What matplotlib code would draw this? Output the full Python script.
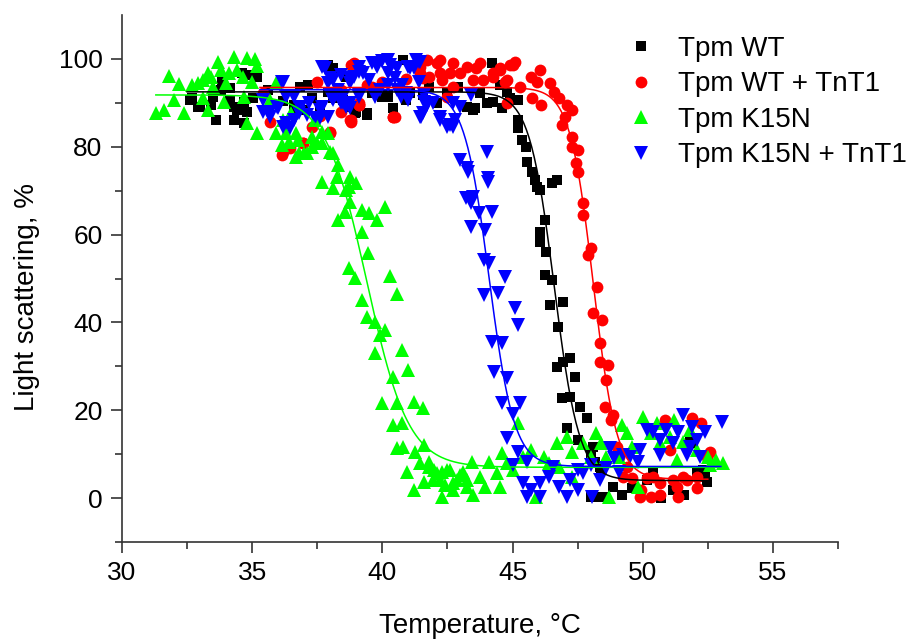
import numpy as np
import matplotlib
matplotlib.use("Agg")
import matplotlib.pyplot as plt
from matplotlib.ticker import MultipleLocator

plt.rcParams['font.family'] = ['Liberation Sans', 'DejaVu Sans']

# ---------------- data ----------------
wt_x = [32.6, 32.7, 32.9, 33.0, 33.4, 33.5, 33.6, 33.8, 33.85, 34.15, 34.15, 34.3, 34.3, 34.4, 34.5,
        34.6, 34.7, 34.7, 34.8, 35.0, 35.2, 35.6, 36.2, 36.6, 36.85, 36.95, 37.3, 37.6, 37.9, 37.9,
        38.1, 38.5, 38.6, 38.75, 38.95, 39.4, 39.6, 40.0, 40.2, 40.4, 40.8, 40.9, 41.05, 41.4, 41.8,
        42.1, 42.5, 42.9, 43.25, 43.5, 43.55, 43.75, 44.0, 44.2, 44.25, 44.5, 44.6, 44.8, 44.9, 45.2,
        45.2, 45.2, 45.35, 45.5, 45.55, 45.75, 45.85, 45.95, 46.05, 46.5, 46.7, 46.25, 46.05, 46.05,
        46.3, 46.25, 46.5, 46.45, 46.95, 46.75, 46.7, 46.95, 47.2, 47.4, 46.9, 47.2, 47.6, 47.85,
        47.1, 47.5, 48.1, 48.0, 48.15, 48.35, 48.4, 48.0, 48.35, 48.5, 48.85, 49.2, 49.6, 50.15,
        50.4, 50.7, 51.15, 51.6, 51.8, 51.9, 52.1, 52.2, 52.3, 52.4, 52.45,
        39.4, 39.0, 40.4, 40.2, 38.0, 37.15, 36.6, 41.55, 38.1, 35.05]
wt_y = [90.7, 91.1, 89.1, 89.1, 89.5, 91.3, 86.1, 92.9, 94.8, 93.4, 90.7, 86.1, 89.1, 88.4, 89.1,
        96.8, 90.2, 85.4, 88.0, 96.4, 95.9, 92.9, 90.5, 89.5, 93.6, 88.4, 91.0, 88.0, 98.6, 92.5,
        97.9, 90.7, 95.9, 89.1, 87.7, 87.2, 92.3, 91.3, 91.3, 88.8, 99.8, 90.7, 92.3, 98.6, 93.6,
        90.0, 92.3, 93.6, 89.1, 88.4, 88.8, 92.3, 90.0, 99.1, 90.2, 94.0, 88.8, 92.5, 91.1, 90.7,
        86.1, 84.3, 81.5, 80.0, 76.5, 74.3, 72.4, 70.8, 70.2, 71.8, 72.4, 63.3, 60.6, 58.3,
        56.0, 50.8, 49.7, 44.0, 44.6, 39.0, 29.8, 31.0, 31.9, 27.6, 22.8, 23.0, 20.7, 18.3,
        15.9, 13.2, 11.6, 10.3, 8.2, 7.1, 6.8, 0.3, 0.2, 0.2, 2.5, 0.7, 2.3, 4.1,
        5.7, 0.0, 1.8, 0.7, 12.8, 12.5, 5.9, 4.8, 6.4, 5.2, 3.6,
        87.7, 88.0, 88.8, 91.8, 97.9, 94.1, 88.8, 91.8, 91.1, 91.1]

wtt_x = [35.4, 36.15, 36.45, 36.95, 37.3, 37.6, 38.0, 38.4, 38.4, 38.8, 38.8, 38.9, 39.1, 39.1, 39.6,
         40.0, 40.4, 40.5, 40.9, 41.45, 41.45, 41.7, 41.8, 42.1, 42.2, 42.2, 42.3, 42.5, 42.6, 42.7,
         42.7, 43.0, 43.25, 43.5, 43.6, 43.75, 43.85, 44.25, 44.25, 44.5, 44.5, 44.7, 44.8, 44.8,
         44.9, 45.0, 45.1, 45.3, 45.7, 45.75, 45.95, 46.05, 46.1, 46.45, 46.6, 46.8, 46.9, 47.0,
         47.1, 47.3, 47.3, 47.3, 47.5, 47.45, 47.5, 47.7, 47.7, 48.0, 47.9, 48.25, 48.1, 48.45,
         48.35, 48.35, 48.65, 48.6, 48.55, 48.85, 48.8, 49.0, 49.1, 49.4, 49.6, 49.25, 49.9, 49.95,
         50.15, 50.3, 50.4, 50.65, 50.65, 50.85, 51.05, 51.15, 51.3, 51.35, 51.55, 51.7, 51.9,
         52.1, 52.1, 52.25, 52.45, 52.6,
         38.8, 37.5, 39.1, 38.75, 40.4, 41.55, 39.4, 35.7, 36.95, 38.0, 36.2]
wtt_y = [92.3, 78.1, 79.7, 80.9, 84.5, 87.0, 83.1, 87.9, 92.9, 85.6, 86.1, 99.1, 89.5, 90.0, 93.5,
         94.8, 86.8, 86.8, 95.5, 96.8, 98.2, 99.8, 95.9, 99.1, 99.8, 96.8, 95.2, 91.3, 96.8, 93.6,
         99.1, 96.8, 98.2, 95.2, 97.9, 99.1, 95.2, 95.9, 96.8, 97.9, 97.5, 94.8, 90.0, 95.2,
         98.6, 98.6, 99.3, 93.6, 95.9, 91.1, 94.8, 97.5, 89.5, 94.5, 92.5, 91.1, 85.0, 86.8,
         89.5, 88.4, 82.2, 80.0, 79.3, 76.3, 74.3, 67.2, 64.5, 56.9, 55.4, 48.1, 42.1, 40.5,
         35.3, 31.0, 30.3, 26.9, 20.7, 18.9, 17.8, 11.6, 9.3, 7.1, 4.6, 4.8, 0.2, 1.8,
         4.6, 0.2, 4.8, 0.7, 3.4, 17.8, 10.9, 4.1, 2.5, 0.2, 4.8, 4.1, 18.2,
         2.3, 4.8, 17.1, 9.3, 10.5,
         98.6, 94.8, 89.5, 86.1, 86.8, 95.7, 94.1, 85.6, 80.9, 83.4, 78.8]

k15n_x = [31.3, 31.6, 31.8, 32.0, 32.2, 32.4, 32.7, 32.9, 33.1, 33.1, 33.3, 33.3, 33.4, 33.5, 33.7,
          33.8, 33.9, 34.0, 34.1, 34.3, 34.4, 34.65, 34.7, 34.8, 34.8, 35.0, 35.1, 35.2, 35.2, 35.7,
          35.9, 35.9, 36.15, 36.2, 36.3, 36.4, 36.5, 36.7, 36.7, 36.75, 36.8, 37.0, 37.1, 37.3, 37.3,
          37.4, 37.5, 37.7, 37.7, 37.7, 37.9, 38.0, 38.1, 38.1, 38.25, 38.3, 38.3, 38.56, 38.6, 38.7,
          38.75, 38.75, 38.7, 39.0, 38.95, 39.2, 39.2, 39.2, 39.45, 39.4, 39.5, 39.7, 39.7, 39.8,
          39.9, 40.0, 40.1, 40.1, 40.3, 40.4, 40.4, 40.55, 40.55, 40.55, 40.75, 40.75, 40.8, 40.95,
          41.0, 41.2, 41.2, 41.25, 41.45, 41.55, 41.6, 41.6, 41.8, 41.8, 41.95, 42.0, 42.1, 42.2,
          42.3, 42.3, 42.4, 42.5, 42.6, 42.7, 42.7, 42.85, 43.0, 43.1, 43.25, 43.25, 43.45, 43.5,
          43.75, 43.95, 44.1, 44.4, 44.5, 44.6, 44.8, 45.0, 45.2, 45.4, 45.7, 45.9, 46.2, 46.4,
          46.7, 46.8, 47.1, 47.3, 47.3, 47.7, 48.0, 48.2, 48.4, 48.6, 48.7, 49.1, 49.2, 49.4,
          49.6, 49.8, 50.0, 50.3, 50.55, 50.65, 51.05, 51.2, 51.3, 51.55, 51.8, 52.1, 52.5, 52.6,
          52.8, 53.1]
k15n_y = [87.7, 88.4, 96.0, 90.7, 94.3, 87.6, 94.0, 94.5, 95.2, 91.1, 96.8, 88.4, 95.9, 93.6, 99.3,
          97.5, 90.2, 94.5, 96.8, 100.5, 97.5, 95.9, 91.3, 100.2, 85.3, 94.8, 100.0, 98.4, 83.2, 90.7,
          94.5, 83.1, 80.4, 86.1, 83.1, 81.1, 87.7, 83.1, 77.7, 81.5, 78.6, 78.6, 78.6, 80.0, 82.2,
          86.1, 80.9, 83.4, 80.9, 72.0, 83.1, 78.8, 78.6, 70.6, 73.1, 75.9, 63.3, 65.1, 70.2, 70.8,
          73.1, 67.4, 52.4, 71.8, 50.1, 65.6, 60.6, 45.1, 55.9, 41.2, 64.9, 40.1, 33.0, 63.3,
          37.1, 21.6, 66.2, 38.3, 50.5, 27.6, 16.6, 46.5, 21.7, 11.4, 33.7, 17.1, 11.6, 5.9,
          29.2, 21.9, 1.8, 10.4, 8.0, 20.4, 12.0, 3.6, 8.2, 7.1, 4.1, 6.4, 5.7, 4.1,
          0.3, 5.9, 3.0, 6.4, 6.4, 1.8, 3.4, 4.1, 5.2, 5.9, 2.5, 4.1, 8.2, 0.7,
          4.8, 2.5, 8.2, 5.7, 2.5, 10.3, 8.0, 6.4, 17.1, 9.3, 10.9, 0.2, 9.3, 8.0,
          12.5, 7.1, 13.9, 10.5, 4.8, 12.5, 9.3, 14.8, 12.5, 9.3, 0.2, 9.3, 16.6, 14.8,
          11.6, 2.5, 18.5, 14.8, 17.1, 12.5, 13.9, 17.8, 8.7, 12.8, 15.5, 10.9, 9.3, 7.5,
          8.7, 8.0]

k15nt_x = [35.4, 35.4, 35.7, 35.95, 36.0, 36.15, 36.2, 36.3, 36.3, 36.6, 36.6, 36.8, 36.85, 37.1,
           37.2, 37.4, 37.6, 37.7, 37.7, 37.8, 37.9, 37.9, 38.05, 38.1, 38.1, 38.3, 38.4, 38.5, 38.6,
           38.75, 38.75, 38.9, 39.1, 39.1, 39.25, 39.5, 39.6, 39.7, 39.8, 39.9, 40.0, 40.2, 40.3,
           40.5, 40.55, 40.7, 40.9, 41.0, 41.05, 41.0, 41.3, 41.4, 41.45, 41.55, 41.6, 41.7, 41.95,
           42.2, 42.2, 42.5, 42.6, 42.7, 42.7, 42.8, 43.0, 43.4, 43.0, 43.25, 43.3, 44.0, 44.05,
           44.05, 43.2, 43.5, 43.4, 43.7, 44.2, 43.4, 43.95, 43.9, 44.1, 44.7, 43.9, 44.45, 45.1,
           45.2, 44.2, 44.6, 44.3, 44.8, 44.6, 45.3, 45.0, 44.8, 45.2, 45.55, 45.0, 45.4, 45.55,
           45.7, 46.05, 46.4, 46.05, 46.55, 46.8, 47.1, 47.2, 47.5, 47.5, 47.7, 48.0, 48.05, 48.35,
           48.6, 48.75, 48.9, 49.1, 49.25, 49.5, 49.8, 49.9, 50.15, 50.4, 50.65, 50.65, 50.9, 51.15,
           51.35, 51.55, 51.7, 51.8, 51.9, 52.1, 52.2, 52.4, 53.05,
           38.0, 38.4, 38.75, 39.1, 39.8, 40.2, 40.55, 41.2, 41.45, 38.0, 38.5, 38.75, 39.1, 39.7,
           40.2, 40.75, 41.4, 41.6, 41.5, 37.6, 36.85, 36.2, 35.7, 36.45]
k15nt_y = [90.7, 88.0, 86.8, 89.1, 88.8, 94.8, 84.5, 91.3, 85.4, 86.1, 91.3, 87.7, 89.1, 87.2,
           90.0, 86.6, 88.4, 98.2, 89.1, 98.0, 86.8, 94.5, 91.1, 95.2, 90.7, 92.9, 90.0, 91.3, 89.1,
           94.5, 90.0, 95.9, 97.0, 91.3, 96.8, 95.2, 99.1, 91.3, 98.2, 92.9, 99.6, 96.8, 98.6,
           95.7, 92.9, 91.3, 92.3, 98.2, 97.9, 90.7, 99.8, 99.3, 86.8, 87.7, 91.8, 89.5, 90.0,
           86.8, 86.1, 84.5, 85.0, 84.5, 90.0, 86.1, 89.1, 91.8, 77.0, 75.2, 74.3, 78.8, 72.9,
           72.0, 68.3, 68.6, 67.2, 64.9, 65.1, 61.7, 61.0, 54.2, 53.5, 50.3, 46.2, 46.7, 43.3,
           39.4, 35.5, 35.3, 28.7, 27.3, 21.6, 21.6, 19.2, 13.7, 10.5, 8.2, 7.5, 3.4, 0.2,
           1.8, 3.4, 4.8, 0.2, 7.1, 2.5, 0.2, 4.1, 1.8, 6.4, 5.7, 7.5, 0.2, 4.1,
           6.8, 11.4, 9.1, 5.9, 9.8, 9.3, 8.2, 10.9, 15.5, 15.0, 13.2, 9.8, 15.5, 12.5,
           15.0, 18.9, 9.8, 11.6, 16.2, 13.2, 9.3, 15.0, 17.3,
           95.7, 96.4, 95.7, 98.2, 99.1, 99.8, 97.9, 97.9, 99.3, 91.8, 90.0, 88.8, 91.8, 91.8,
           94.1, 94.1, 94.8, 90.2, 86.8, 86.6, 88.8, 94.8, 88.0, 84.3]

series_labels = ['Tpm WT', 'Tpm WT + TnT1', 'Tpm K15N', 'Tpm K15N + TnT1']

# Boltzmann fit parameters per series: (A1 top, A2 bottom, x0 midpoint, dx width, x start, x end)
fit_wt = (92.5, 4.0, 46.6, 0.48, 32.5, 52.5)
fit_wtt = (93.5, 4.3, 48.1, 0.45, 35.3, 52.5)
fit_k15n = (91.8, 7.0, 39.4, 0.80, 31.3, 53.2)
fit_k15nt = (93.0, 7.2, 44.1, 0.48, 35.3, 53.0)

x_ticks = [30, 35, 40, 45, 50, 55]
y_ticks = [0, 20, 40, 60, 80, 100]


def boltzmann(p):
    a1, a2, x0, dx, xs, xe = p
    t = np.linspace(xs, xe, 400)
    return t, a2 + (a1 - a2) / (1.0 + np.exp((t - x0) / dx))


# ---------------- figure ----------------
fig = plt.figure(figsize=(9.14, 6.41), dpi=100)
ax = fig.add_axes([122 / 914, 1 - 542 / 641, (838 - 122) / 914, (542 - 15) / 641])

styles = [
    dict(x=wt_x, y=wt_y, color='#000000', marker='s', ms=7.5, fit=fit_wt),
    dict(x=wtt_x, y=wtt_y, color='#ff0000', marker='o', ms=8.5, fit=fit_wtt),
    dict(x=k15n_x, y=k15n_y, color='#00ff00', marker='^', ms=10, fit=fit_k15n),
    dict(x=k15nt_x, y=k15nt_y, color='#0000ff', marker='v', ms=10, fit=fit_k15nt),
]

handles = []
for st, lab in zip(styles, series_labels):
    h, = ax.plot(st['x'], st['y'], linestyle='none', marker=st['marker'], ms=st['ms'],
                 color=st['color'], markeredgewidth=0, label=lab, zorder=2)
    handles.append(h)
for st in styles:
    t, f = boltzmann(st['fit'])
    ax.plot(t, f, color=st['color'], lw=1.1, zorder=3)

ax.set_xlim(30, 57.5)
ax.set_ylim(-10, 110)
ax.set_xticks(x_ticks)
ax.set_yticks(y_ticks)
ax.xaxis.set_minor_locator(MultipleLocator(2.5))
ax.yaxis.set_minor_locator(plt.FixedLocator([-10, 10, 30, 50, 70, 90]))

for s in ['top', 'right']:
    ax.spines[s].set_visible(False)
for s in ['left', 'bottom']:
    ax.spines[s].set_linewidth(1.2)
    ax.spines[s].set_color('#333333')

ax.tick_params(which='major', direction='out', length=8, width=1.2, labelsize=19, pad=6, color='#333333')
ax.tick_params(which='minor', direction='out', length=5, width=1.2, color='#333333')

ax.set_xlabel('Temperature, °C', fontsize=20, va='center')
ax.set_ylabel('Light scattering, %', fontsize=20, va='center')
ax.xaxis.set_label_coords(0.5, (542 - 626) / 527)
ax.yaxis.set_label_coords((27 - 122) / 716, (542 - 297) / 527)

leg = fig.legend(handles=handles, loc='upper left', bbox_to_anchor=(627 / 914, 1 - 36 / 641),
                 frameon=False, fontsize=20, handlelength=1.0, handletextpad=0.85,
                 labelspacing=0.34, borderpad=0, borderaxespad=0)

fig.savefig('out.png', dpi=100, facecolor='white')
